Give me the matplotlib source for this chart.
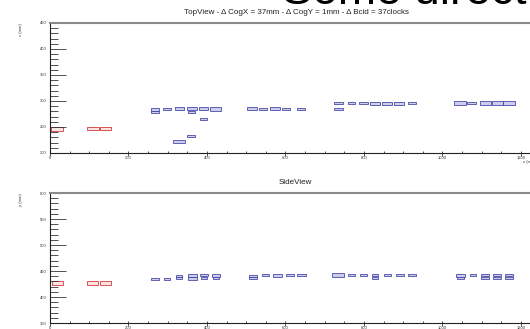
import matplotlib
matplotlib.use("Agg")
import matplotlib.pyplot as plt
from matplotlib.ticker import MultipleLocator

plt.rcParams['font.family'] = ['Liberation Sans', 'DejaVu Sans']

# ---------------- data ----------------
headline = "Some direct"
top_title = "TopView - \u0394 CogX = 37mm - \u0394 CogY = 1mm - \u0394 Bcid = 37clocks"
side_title = "SideView"
top_ylabel = "x (mm)"
side_ylabel = "y (mm)"
xlabel = "z (mm)"

x_ticks = [0, 200, 400, 600, 800, 1000, 1200]
top_yticks = [200, 250, 300, 350, 400, 450]
side_yticks = [350, 400, 450, 500, 550, 600]

# TopView - red (reference) boxes: z, x, relative content
top_red_z = [18, 110, 141]
top_red_x = [246, 247, 247]
top_red_c = [0.95, 1.0, 0.88]

# TopView - blue boxes
top_blue_z = [267, 267, 298, 330, 361, 361, 392, 422, 391, 359, 329,
              515, 543, 573, 602, 639,
              735, 735, 769, 800, 828, 858, 889, 922,
              1045, 1074, 1110, 1140, 1170]
top_blue_x = [284, 279, 284, 285, 285, 279, 285, 285, 265, 233, 222,
              285, 285, 285, 285, 285,
              296, 285, 296, 296, 296, 296, 296, 296,
              296, 296, 296, 296, 296]
top_blue_c = [0.65, 0.65, 0.6, 0.74, 0.82, 0.57, 0.74, 0.96, 0.55, 0.68, 0.96,
              0.82, 0.6, 0.87, 0.68, 0.68,
              0.71, 0.71, 0.55, 0.74, 0.82, 0.82, 0.82, 0.6,
              0.98, 0.68, 0.96, 0.96, 0.96]

# SideView - red boxes
side_red_z = [19, 108, 141]
side_red_y = [427, 427, 427]
side_red_c = [0.95, 0.95, 0.88]

# SideView - blue boxes
side_blue_z = [267, 298, 329, 329, 362, 362, 392, 392, 423, 423,
               517, 517, 549, 580, 611, 641,
               733, 768, 798, 828, 828, 860, 892, 922,
               1046, 1046, 1078, 1109, 1109, 1139, 1139, 1170, 1170]
side_blue_y = [435, 434, 441, 436, 442, 435, 442, 437, 441, 436,
               441, 436, 442, 442, 442, 442,
               442, 442, 442, 442, 436, 442, 442, 442,
               442, 437, 442, 442, 436, 442, 436, 442, 436]
side_blue_c = [0.65, 0.47, 0.55, 0.55, 0.74, 0.74, 0.63, 0.5, 0.68, 0.55,
               0.6, 0.6, 0.6, 0.74, 0.65, 0.68,
               1.0, 0.6, 0.55, 0.55, 0.55, 0.63, 0.68, 0.65,
               0.74, 0.55, 0.55, 0.63, 0.63, 0.6, 0.6, 0.63, 0.63]

# ---------------- style ----------------
BIN_W = 31.0   # bin width along z
BIN_H = 7.0    # bin height along x / y
RED_EDGE, RED_FACE = "#d23a3a", "#f8e4e4"
BLUE_EDGE, BLUE_FACE = "#4a4aa8", (0.38, 0.38, 0.78, 0.32)

W, H = 530, 329
fig = plt.figure(figsize=(W / 100, H / 100), dpi=100)
fig.patch.set_facecolor("white")


def px_ax(left, top, right, bottom):
    return fig.add_axes([left / W, 1 - bottom / H, (right - left) / W, (bottom - top) / H])


def boxes(ax, z, v, c, edge, face, lw=0.6):
    w = [BIN_W * f for f in c]
    h = [BIN_H * f for f in c]
    b = [vv - hh / 2 for vv, hh in zip(v, h)]
    ax.bar(z, h, width=w, bottom=b, color=face, edgecolor=edge, linewidth=lw, align="center")


def style(ax, yticks, ylim, ylabel):
    ax.set_xlim(0, 1223)
    ax.set_ylim(*ylim)
    ax.set_xticks(x_ticks)
    ax.set_xticklabels([str(t) for t in x_ticks])
    ax.set_yticks(yticks)
    ax.set_yticklabels([str(t) for t in yticks])
    ax.xaxis.set_minor_locator(MultipleLocator(50))
    ax.yaxis.set_minor_locator(MultipleLocator(10))
    ax.tick_params(axis="y", which="major", direction="in", length=11.3, width=0.6,
                   labelsize=3, pad=2.5, colors="#333333")
    ax.tick_params(axis="y", which="minor", direction="in", length=5.8, width=0.6,
                   colors="#333333")
    ax.tick_params(axis="x", which="major", direction="inout", length=3.6, width=0.6,
                   labelsize=3, pad=0.5, colors="#333333")
    ax.tick_params(axis="x", which="minor", direction="in", length=1.4, width=0.6,
                   colors="#333333")
    for s in ("left", "bottom"):
        ax.spines[s].set_color("#222222")
        ax.spines[s].set_linewidth(0.8)
    ax.spines["right"].set_visible(False)
    ax.spines["top"].set_color("#8a8a8a")
    ax.spines["top"].set_linewidth(1.5)
    ax.text(-0.06, 1.0, ylabel, rotation=90, ha="center", va="top",
            transform=ax.transAxes, fontsize=3, color="#333333")
    ax.set_facecolor("white")


ax1 = px_ax(50, 23, 530, 153)
boxes(ax1, top_blue_z, top_blue_x, top_blue_c, BLUE_EDGE, BLUE_FACE)
boxes(ax1, top_red_z, top_red_x, top_red_c, RED_EDGE, RED_FACE)
style(ax1, top_yticks, (200, 450), top_ylabel)

ax2 = px_ax(50, 193, 530, 323)
boxes(ax2, side_blue_z, side_blue_y, side_blue_c, BLUE_EDGE, BLUE_FACE)
boxes(ax2, side_red_z, side_red_y, side_red_c, RED_EDGE, RED_FACE)
style(ax2, side_yticks, (350, 600), side_ylabel)

fig.text(282 / W, 1 - 4.0 / H, headline, fontsize=33, ha="left", va="baseline", color="black")
fig.text(296 / W, 1 - 12.7 / H, top_title, fontsize=5.8, ha="center", va="center", color="#222222")
fig.text(295 / W, 1 - 182.3 / H, side_title, fontsize=5.8, ha="center", va="center", color="#222222")
fig.text(523 / W, 1 - 162 / H, xlabel, fontsize=3, ha="left", va="center", color="#333333")

fig.savefig("out.png", dpi=100)
